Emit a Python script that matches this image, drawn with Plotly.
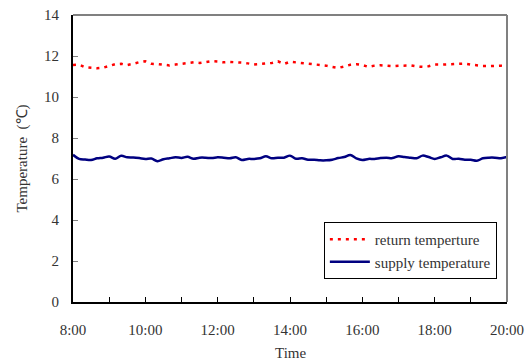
import plotly.graph_objects as go

# time in hours, 10-minute steps from 8:00 to 20:00
hours = [8 + k / 6 for k in range(73)]

return_temp = [
    11.56, 11.58, 11.45, 11.44, 11.40, 11.43, 11.52, 11.60, 11.62, 11.56,
    11.62, 11.70, 11.74, 11.62, 11.61, 11.59, 11.54, 11.58, 11.61, 11.63,
    11.69, 11.66, 11.70, 11.75, 11.73, 11.69, 11.71, 11.71, 11.68, 11.64,
    11.59, 11.61, 11.62, 11.66, 11.74, 11.61, 11.72, 11.69, 11.66, 11.63,
    11.59, 11.57, 11.53, 11.47, 11.42, 11.49, 11.57, 11.60, 11.56, 11.47,
    11.53, 11.55, 11.53, 11.50, 11.52, 11.53, 11.54, 11.49, 11.47, 11.50,
    11.58, 11.58, 11.59, 11.60, 11.59, 11.63, 11.58, 11.53, 11.51, 11.51,
    11.52, 11.53, 11.50,
]

supply_temp = [
    7.18, 6.98, 6.95, 6.93, 7.01, 7.04, 7.10, 6.99, 7.13, 7.06,
    7.05, 7.02, 6.98, 7.00, 6.87, 6.96, 7.01, 7.06, 7.03, 7.08,
    6.99, 7.04, 7.04, 7.02, 7.06, 7.04, 7.01, 7.06, 6.93, 6.98,
    6.98, 7.01, 7.11, 7.01, 7.04, 7.04, 7.14, 6.99, 7.01, 6.94,
    6.94, 6.91, 6.91, 6.94, 7.02, 7.07, 7.17, 7.01, 6.93, 6.98,
    6.98, 7.02, 7.04, 7.02, 7.11, 7.07, 7.04, 7.01, 7.14, 7.07,
    6.98, 7.06, 7.14, 6.98, 6.99, 6.94, 6.94, 6.89, 7.01, 7.04,
    7.04, 7.01, 7.07,
]

tick_hours = list(range(8, 21))
tick_labels = [f"{h}:00" if h % 2 == 0 else "" for h in tick_hours]
y_ticks = [0, 2, 4, 6, 8, 10, 12, 14]

FONT = "Liberation Serif"
TXT = "#333333"

fig = go.Figure()
fig.add_trace(go.Scatter(
    x=hours, y=return_temp, mode="lines", name="return temperture",
    line=dict(color="#ff0000", width=2.5, dash="3px,5px"),
))
fig.add_trace(go.Scatter(
    x=hours, y=supply_temp, mode="lines", name="supply temperature",
    line=dict(color="#000080", width=2.5, shape="spline"),
))

fig.update_layout(
    width=529, height=362,
    margin=dict(l=73, r=22, t=15, b=60, autoexpand=False),
    plot_bgcolor="white", paper_bgcolor="white",
    font=dict(family=FONT, size=15, color=TXT),
    showlegend=True,
    legend=dict(
        x=0.578, y=0.279, xanchor="left", yanchor="top",
        bgcolor="white", bordercolor="black", borderwidth=1,
        font=dict(family=FONT, size=15, color=TXT),
        tracegroupgap=0, itemwidth=40,
    ),
    xaxis=dict(
        range=[8, 20], tickvals=tick_hours, ticktext=tick_labels,
        ticks="inside", ticklen=5, tickcolor="black", tickwidth=1,
        showline=True, linecolor="black", linewidth=2,
        showgrid=False, zeroline=False, automargin=False,
        ticklabelstandoff=13,
        tickfont=dict(family=FONT, size=15, color=TXT),
    ),
    yaxis=dict(
        range=[0, 14], tickvals=y_ticks,
        ticks="inside", ticklen=5, tickcolor="#808080", tickwidth=1,
        showline=True, linecolor="black", linewidth=2,
        showgrid=False, zeroline=False, automargin=False,
        ticklabelstandoff=9,
        tickfont=dict(family=FONT, size=15, color=TXT),
    ),
    shapes=[
        dict(type="line", xref="paper", yref="paper", x0=0, x1=1, y0=1, y1=1,
             line=dict(color="#808080", width=2)),
        dict(type="line", xref="paper", yref="paper", x0=1, x1=1, y0=0, y1=1,
             line=dict(color="#808080", width=2)),
    ],
    annotations=[
        dict(text="Time", xref="paper", yref="paper", x=0.5, y=-0.178,
             xanchor="center", yanchor="middle", showarrow=False,
             font=dict(family=FONT, size=15, color=TXT)),
        dict(text="Temperature  (℃)", xref="paper", yref="paper", x=-0.1175, y=0.5,
             xanchor="center", yanchor="middle", textangle=-90, showarrow=False,
             font=dict(family=FONT, size=15, color=TXT)),
    ],
)

fig.write_html(
    "out.html",
    config={"displayModeBar": False},
    post_script="document.body.style.margin='0';document.body.style.overflow='hidden';",
)
